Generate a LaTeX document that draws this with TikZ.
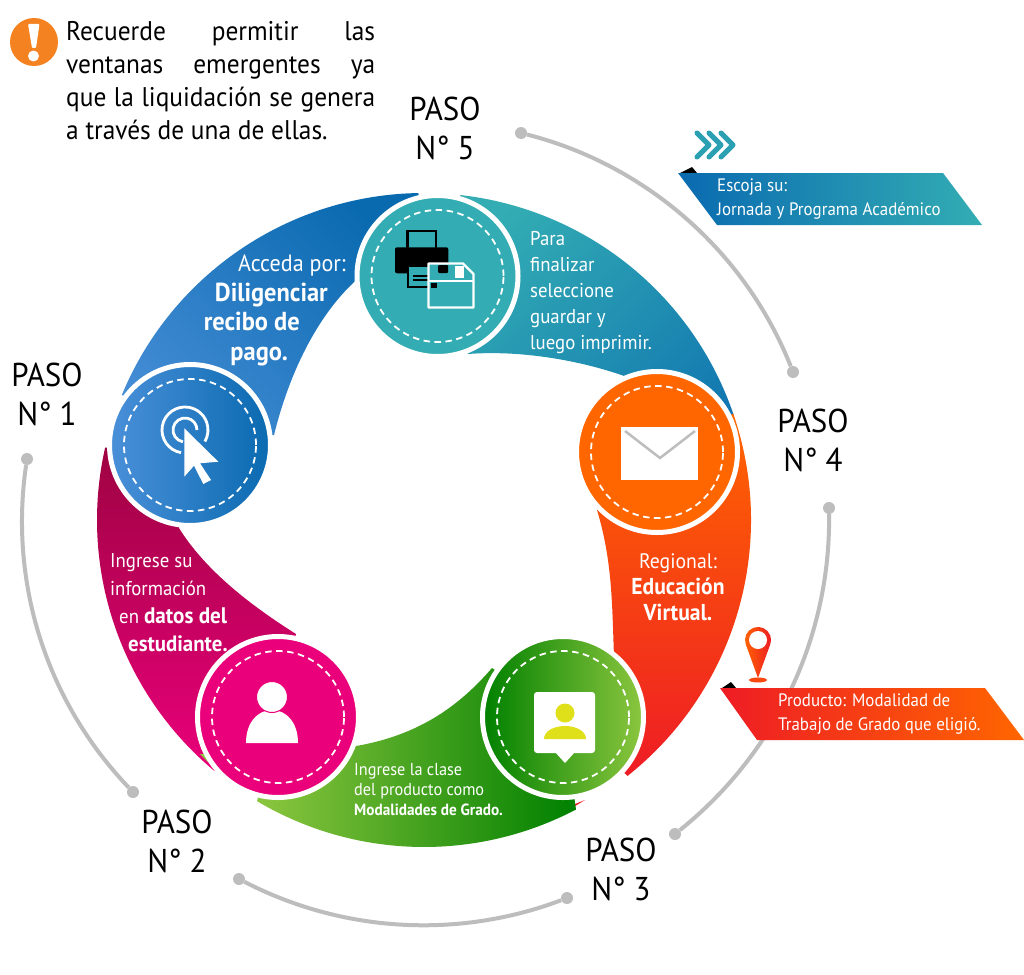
\documentclass[tikz,border=0pt]{standalone}
\usepackage{fontspec}
\setmainfont{PT Sans}[FakeStretch=0.94]
\definecolor{background}{RGB}{255, 255, 255}
\definecolor{connector}{HTML}{BDBDBD}
\definecolor{warning}{HTML}{F58220}
\definecolor{bluelight}{HTML}{4A90D9}
\definecolor{bluedark}{HTML}{0A6AB0}
\definecolor{tealmain}{HTML}{33ADB3}
\definecolor{orangemain}{HTML}{FF6600}
\definecolor{redmain}{HTML}{EE1C25}
\definecolor{greendark}{HTML}{008000}
\definecolor{greenlight}{HTML}{8CC63F}
\definecolor{pinkmain}{HTML}{E9007A}
\definecolor{pinkdark}{HTML}{9E0342}
\definecolor{yellowicon}{HTML}{E0E01A}
\def\bandradius{327}
\newcommand{\heavy}[2]{{\fontsize{#1}{#1}\selectfont\bfseries #2}}
\tikzset{
  stepdisc/.style={circle,draw=white,line width=5pt,minimum size=161pt,inner sep=0pt},
  stepdash/.style={circle,draw=white,line width=1.8pt,dash pattern=on 6.5pt off 4.5pt,minimum size=132pt,inner sep=0pt},
  stepdot/.style={circle,fill=connector,minimum size=12pt,inner sep=0pt},
  stepline/.style={draw=connector,line width=4pt},
  steptitle/.style={align=center,font=\fontsize{33}{39}\selectfont,inner sep=0pt},
  bandtext/.style={text=white,inner sep=0pt,font=\fontsize{20}{26}\selectfont},
  bannertext/.style={text=white,inner sep=0pt,align=left,anchor=west,font=\fontsize{18}{24}\selectfont},
}
\begin{document}
\begin{tikzpicture}[x=1pt,y=-1pt]
	% Boundary box
	\fill[background] (0,0) rectangle (1024,974);
	\useasboundingbox (0,0) rectangle (1024,974);
	\coordinate (hub) at (424,520);

	% Grey connectors between the titles
	\node[stepdot] (dotfive) at (521,133) {};
	\node[stepdot] (dotfour) at (793,372) {};
	\node[stepdot] (dotfourb) at (829,508) {};
	\node[stepdot] (dotthree) at (675,834) {};
	\node[stepdot] (dotthreeb) at (567,898) {};
	\node[stepdot] (dottwo) at (239,879) {};
	\node[stepdot] (dottwob) at (133,792) {};
	\node[stepdot] (dotone) at (27,459) {};
	\draw[stepline] (dotfive) to[bend left=27,looseness=.9] (dotfour);
	\draw[stepline] (dotfourb) to[bend left=26,looseness=.9] (dotthree);
	\draw[stepline] (dotthreeb) to[bend left=24,looseness=.89] (dottwo);
	\draw[stepline] (dottwob) to[bend left=26,looseness=.9] (dotone);

	% Coloured bands of the ring
	% Step 1 band
	\shade[top color=bluedark,bottom color=bluelight,shading angle=-45] (hub) ++(202.5:\bandradius) arc (202.5:269:\bandradius) -- (437,276) -- (362,275) .. controls (320,310) and (290,370) .. (274,435) -- (190,445) -- cycle;
	% Step 5 band
	\shade[top color=tealmain,bottom color=bluedark!85!tealmain,shading angle=45] (hub) ++(276.4:\bandradius) arc (276.4:341.3:\bandradius) -- (658,452) -- (627,377) .. controls (580,360) and (520,350) .. (468,354) -- (437,276) -- cycle;
	% Step 4 band
	\shade[top color=orangemain,bottom color=redmain] (hub) ++(341:\bandradius) arc (341:411.5:\bandradius) -- (563,716) -- (614,657) .. controls (612,600) and (612,560) .. (597,510) -- (658,452) -- cycle;
	% Step 3 band
	\fill[redmain] (572,808) -- (585,800) -- (575,804) -- cycle;
	\shade[left color=greenlight,middle color=greendark!85!greenlight,right color=greendark] (hub) ++(62.3:\bandradius) arc (62.3:120.7:\bandradius) -- (277,716) -- (356,746) .. controls (420,735) and (460,705) .. (492,668) -- (563,716) -- cycle;
	% Step 2 band
	\shade[top color=pinkdark,bottom color=pinkmain] (hub) ++(192.8:\bandradius) arc (192.8:129.9:\bandradius) -- (277,716) -- (296,634) .. controls (250,605) and (205,570) .. (179,528) -- (190,445) -- cycle;
	\fill[greenlight] (200,754) -- (208,762) -- (206,754) -- cycle;

	% Discs with their dashed rings
	\node[stepdisc,left color=bluelight,right color=bluedark] (discone) at (190,445) {};
	\node[stepdisc,fill=pinkmain] (disctwo) at (278,717) {};
	\node[stepdisc,left color=greendark,right color=greenlight] (discthree) at (563,717) {};
	\node[stepdisc,fill=orangemain] (discfour) at (657,452) {};
	\node[stepdisc,fill=tealmain] (discfive) at (437.5,276) {};
	\foreach \disc in {discone,disctwo,discthree,discfour,discfive}
		\node[stepdash] at (\disc) {};

	% Step 1 icon: pointer over two open rings
	\draw[white,line width=2.8pt] (185,430) ++(100:23) arc (100:390:23);
	\draw[white,line width=2.8pt] (185,430) ++(100:12) arc (100:360:12);
	\fill[white] (184.3,428.3) -- (218.3,461.7) -- (200,463.3) -- (211,480) -- (203.3,484) -- (194,465.7) -- (184.3,476.7) -- cycle;

	% Step 2 icon: person
	\fill[white] (246,743) .. controls (246,722) and (258,710) .. (272,710) .. controls (286,710) and (298,722) .. (298,743) -- cycle;
	\draw[pinkmain,fill=white,line width=1pt] (272,697) circle (15.5);

	% Step 3 icon: speech card with person
	\fill[white,rounded corners=3pt] (534,692) rectangle (595,753);
	\fill[white] (555,752) -- (565,763) -- (575,752) -- cycle;
	\fill[yellowicon] (565,713) circle (9.5);
	\fill[yellowicon] (544,739) .. controls (544,731) and (554,726) .. (565,726) .. controls (576,726) and (586,731) .. (586,739) -- cycle;

	% Step 4 icon: envelope
	\fill[white] (621,427) rectangle (698,480);
	\draw[connector,line width=2.5pt] (625,431) -- (660,458) -- (695,431);

	% Step 5 icon: printer and disk
	\draw[black,line width=2.6pt] (407.5,231) rectangle (436,250);
	\fill[black,rounded corners=2pt] (395,247.3) rectangle (448.3,273.3);
	\draw[black,fill=tealmain,line width=2.2pt] (408,266) rectangle (436,287);
	\draw[black,line width=1.4pt] (413,276) -- (430,276) (413,280) -- (430,280);
	\draw[white,fill=tealmain,line width=2.4pt,line join=round] (428.5,263.5) -- (463,263.5) -- (473.5,274) -- (473.5,307.5) -- (428.5,307.5) -- cycle;
	\fill[black,rounded corners=1pt] (438,265) rectangle (448,273);
	\fill[black] (431,283) rectangle (437,288);
	\draw[white,line width=2pt] (428.5,281) -- (473.5,281);
	\fill[white] (455,266) rectangle (463.5,277.5);

	% Alert mark
	\fill[warning] (34,42) circle (24);
	\fill[white,rounded corners=1pt] (28,24) -- (39.5,24) -- (36,48) -- (32,48) -- cycle;
	\fill[white] (33.5,56) circle (5.5);

	% Chevrons above the blue banner
	\foreach \tip in {711,723,735}
		\draw[tealmain!80!bluedark,line width=5pt,line cap=round,line join=round] (\tip-14,133) -- (\tip-2,145) -- (\tip-14,157);

	% Blue banner
	\fill[black] (680,173) -- (692,167) -- (697,173) -- cycle;
	\shade[left color=bluedark,right color=tealmain] (678,173) -- (943,173) -- (982,225) -- (717,225) -- cycle;

	% Map pin
	\shade[left color=orangemain,right color=redmain] (758,678) -- (745.8,644.4) arc (160:380:13) -- cycle;
	\fill[background] (758,640) circle (9);
	\fill[orangemain!60!redmain] (758,680) ellipse (9 and 2.5);

	% Orange banner
	\fill[black] (722,688) -- (731,682) -- (736,688) -- cycle;
	\shade[left color=redmain,right color=orangemain] (720,688) -- (985,688) -- (1024,740) -- (757,740) -- cycle;

	% Text
	% Text in the alert
	\node[anchor=north west,align=left,inner sep=0pt,font=\fontsize{27}{33}\selectfont] (alerttext) at (66,21) {\makebox[309pt][s]{Recuerde permitir las}\\\makebox[309pt][s]{ventanas emergentes ya}\\\makebox[309pt][s]{que la liquidación se genera}\\a través de una de ellas.};

	% Titles
	\node[steptitle] (titleone) at (47,394) {PASO\\N° 1};
	\node[steptitle] (titletwo) at (177,841) {PASO\\N° 2};
	\node[steptitle] (titlethree) at (621,869) {PASO\\N° 3};
	\node[steptitle] (titlefour) at (813,440) {PASO\\N° 4};
	\node[steptitle] (titlefive) at (445,128) {PASO\\N° 5};

	% Text on the bands
	\node[bandtext,align=right,anchor=north east,font=\fontsize{23.5}{29.5}\selectfont] (textone) at (346,255) {Acceda por:\\\heavy{26}{Diligenciar}\rule{18pt}{0pt}\\\heavy{26}{recibo de}\rule{46pt}{0pt}\\\heavy{26}{pago.}\rule{58pt}{0pt}};
	\node[bandtext,align=left,anchor=north west,font=\fontsize{20}{26}\selectfont] (textfive) at (530,231) {Para\\finalizar\\seleccione\\guardar y\\luego imprimir.};
	\node[bandtext,align=center,font=\fontsize{21}{26}\selectfont] (textfour) at (678,587) {Regional:\\\heavy{23}{Educación}\\\heavy{23}{Virtual.}};
	\node[bandtext,align=left,anchor=north west,font=\fontsize{17.3}{20}\selectfont] (textthree) at (354,763) {Ingrese la clase\\del producto como\\\heavy{16.2}{Modalidades de Grado.}};
	\node[bandtext,align=left,anchor=north west,font=\fontsize{20}{28}\selectfont] (texttwo) at (110,553) {Ingrese su\\información\\\rule{9pt}{0pt}en \heavy{22.5}{datos del}\\\rule{18pt}{0pt}\heavy{22.2}{estudiante.}};

	% Text in the banners
	\node[bannertext] (bannerblue) at (717,199) {Escoja su:\\Jornada y Programa Académico};
	\node[bannertext] (bannerorange) at (778,714) {Producto: Modalidad de\\Trabajo de Grado que eligió.};
\end{tikzpicture}
\end{document}
